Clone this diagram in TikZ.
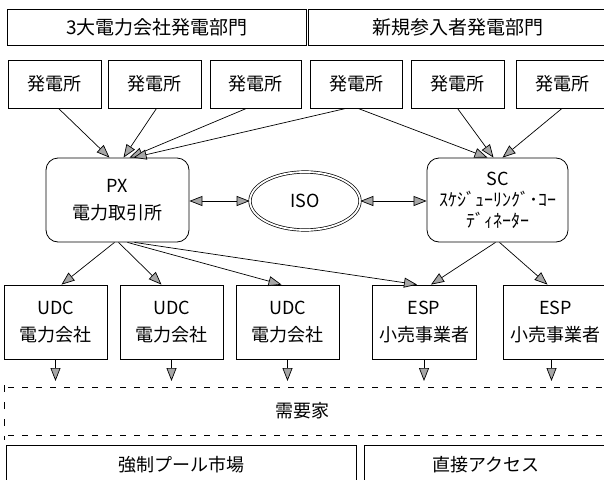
\documentclass[tikz,border=0pt]{standalone}
\usepackage{fontspec}
\setmainfont{Noto Sans CJK JP}
\usetikzlibrary{arrows.meta,shapes.geometric,calc}
\begin{document}
\begin{tikzpicture}[x=1pt,y=-1pt,
  box/.style={draw, line width=0.8pt, inner sep=0pt, align=center, font=\fontsize{18}{27}\selectfont},
  rbox/.style={box, rounded corners=12pt},
  tip/.tip={Triangle[length=13pt,width=10pt,fill=gray!70,line width=0.7pt]},
  arr/.style={line width=0.7pt, -tip},
  darr/.style={line width=0.7pt, tip-tip},
  dline/.style={line width=0.8pt, dash pattern=on 6pt off 8pt}]
\useasboundingbox (0,0) rectangle (604,479);
\clip (0,0) rectangle (604,479);
% headers
\node[box, minimum width=299pt, minimum height=36pt, font=\fontsize{19}{22}\selectfont] (h1) at (157,27.5) {3大電力会社発電部門};
\node[box, minimum width=300pt, minimum height=36pt, font=\fontsize{19}{22}\selectfont] (h2) at (458,27.5) {新規参入者発電部門};
% plants
\node[box, minimum width=93pt, minimum height=48pt] (p1) at (54.5,84) {発電所};
\node[box, minimum width=93pt, minimum height=48pt] (p2) at (154.5,84) {発電所};
\node[box, minimum width=91pt, minimum height=48pt] (p3) at (255.5,84) {発電所};
\node[box, minimum width=92pt, minimum height=48pt] (p4) at (356,84) {発電所};
\node[box, minimum width=93pt, minimum height=48pt] (p5) at (457.5,84) {発電所};
\node[box, minimum width=92pt, minimum height=48pt] (p6) at (562,84) {発電所};
% middle
\node[rbox, minimum width=143pt, minimum height=84pt] (px) at (117.5,200) {PX\\電力取引所};
\node[draw, ellipse, double, double distance=1.8pt, line width=0.7pt, inner sep=0pt,
      minimum width=110pt, minimum height=58pt, font=\fontsize{18}{22}\selectfont] (iso) at (305,201) {ISO};
\node[rbox, minimum width=141pt, minimum height=84pt, font=\fontsize{18}{21}\selectfont] (sc) at (497.5,200) {SC\\ｽｹｼﾞｭｰﾘﾝｸﾞ･ｺｰ\\ﾃﾞｨﾈｰﾀｰ};
% distributors / retailers
\node[box, minimum width=103pt, minimum height=74pt] (u1) at (55.5,322) {UDC\\電力会社};
\node[box, minimum width=103pt, minimum height=74pt] (u2) at (171.5,322) {UDC\\電力会社};
\node[box, minimum width=103pt, minimum height=74pt] (u3) at (287.5,322) {UDC\\電力会社};
\node[box, minimum width=104pt, minimum height=74pt] (e1) at (424,322) {ESP\\小売事業者};
\node[box, minimum width=105pt, minimum height=74pt] (e2) at (555.5,322) {ESP\\小売事業者};
% demand band
\coordinate (dtop) at (0,381);
\draw[dline] (8,387) -- (604,387);
\draw[dline] (8,435) -- (604,435);
\draw[line width=0.8pt, dash pattern=on 7pt off 10pt] (4,385) -- (4,440);
\node[font=\fontsize{18}{20}\selectfont] (dem) at (302,411) {需要家};
% bottom boxes
\node[box, minimum width=350pt, minimum height=40pt] (pool) at (181,465) {強制プール市場};
\node[box, minimum width=244pt, minimum height=40pt] (direct) at (486,465) {直接アクセス};
% connectors: plants -> PX / SC
\draw[arr] ([xshift=4pt]p1.south) -- ([xshift=-8pt]px.north);
\draw[arr] ([xshift=2pt]p2.south) -- ([xshift=6pt]px.north);
\draw[arr] ([xshift=-9pt]p3.south) -- ([xshift=12pt]px.north);
\draw[arr] ([xshift=-10pt]p4.south) -- ([xshift=16pt]px.north);
\draw[arr] ([xshift=2pt]p4.south) -- ([xshift=-10pt]sc.north);
\draw[arr] (p5.south) -- ([xshift=-4pt]sc.north);
\draw[arr] (p6.south) -- ([xshift=5pt]sc.north);
% PX <-> ISO <-> SC
\draw[darr] (px.east |- iso.west) -- (iso.west);
\draw[darr] (iso.east) -- (sc.west |- iso.east);
% PX / SC -> UDC / ESP
\draw[arr] ([xshift=-3pt]px.south) -- ([xshift=6pt]u1.north);
\draw[arr] ([xshift=1pt]px.south) -- ([xshift=-10pt]u2.north);
\draw[arr] ([xshift=10pt]px.south) -- ([xshift=-6pt]u3.north);
\draw[arr] ([xshift=17pt]px.south) -- ([xshift=-7pt]e1.north);
\draw[arr] ([xshift=-2pt]sc.south) -- ([xshift=7pt]e1.north);
\draw[arr] ([xshift=2pt]sc.south) -- ([xshift=-8pt]e2.north);
% down to customers
\draw[arr] (u1.south) -- (u1.south |- dtop);
\draw[arr] (u2.south) -- (u2.south |- dtop);
\draw[arr] (u3.south) -- (u3.south |- dtop);
\draw[arr] (e1.south) -- (e1.south |- dtop);
\draw[arr] ([xshift=-4pt]e2.south) -- ([xshift=-4pt]e2.south |- dtop);
\end{tikzpicture}
\end{document}
